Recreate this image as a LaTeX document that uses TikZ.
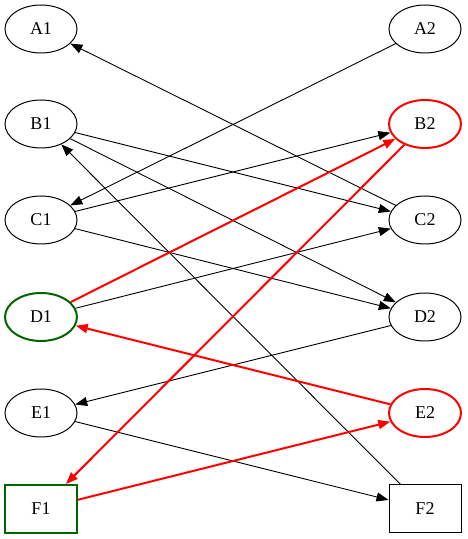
\documentclass[tikz,border=0pt]{standalone}
\usepackage{fontspec}
\setmainfont{Liberation Serif}
\usetikzlibrary{arrows.meta,shapes.geometric}
\definecolor{dkgreen}{RGB}{0,100,0}
\begin{document}
\begin{tikzpicture}[x=1pt,y=1pt,
    vert/.style={draw,line width=1pt,ellipse,minimum width=72pt,minimum height=48pt,inner sep=0pt,font=\fontsize{18}{20}\selectfont},
    boxv/.style={vert,rectangle},
    edge/.style={line width=0.9pt,-{Triangle[length=12pt,width=9pt]}},
    hot/.style={red,line width=2pt,-{Triangle[length=12pt,width=9pt]}}]
    \useasboundingbox (0,0) rectangle (467,539);
    % left column
    \node[vert] (A1) at (41,510) {A1};
    \node[vert] (B1) at (41,415) {B1};
    \node[vert] (C1) at (41,319) {C1};
    \node[vert,dkgreen,line width=2pt,text=black] (D1) at (41,222) {D1};
    \node[vert] (E1) at (41,126) {E1};
    \node[boxv,dkgreen,line width=2pt,text=black] (F1) at (41,30) {F1};
    % right column
    \node[vert] (A2) at (425,510) {A2};
    \node[vert,red,line width=2pt,text=black] (B2) at (425,415) {B2};
    \node[vert] (C2) at (425,319) {C2};
    \node[vert] (D2) at (425,222) {D2};
    \node[vert,red,line width=2pt,text=black] (E2) at (425,126) {E2};
    \node[boxv] (F2) at (425,30) {F2};
    \foreach \a/\b in {A2/C1,C2/A1,B1/C2,B1/D2,C1/B2,C1/D2,D1/C2,D2/E1,E1/F2,F2/B1}{
        \draw[edge] (\a) -- (\b);
    }
    \foreach \a/\b in {D1/B2,B2/F1,E2/D1,F1/E2}{
        \draw[hot] (\a) -- (\b);
    }
\end{tikzpicture}
\end{document}
